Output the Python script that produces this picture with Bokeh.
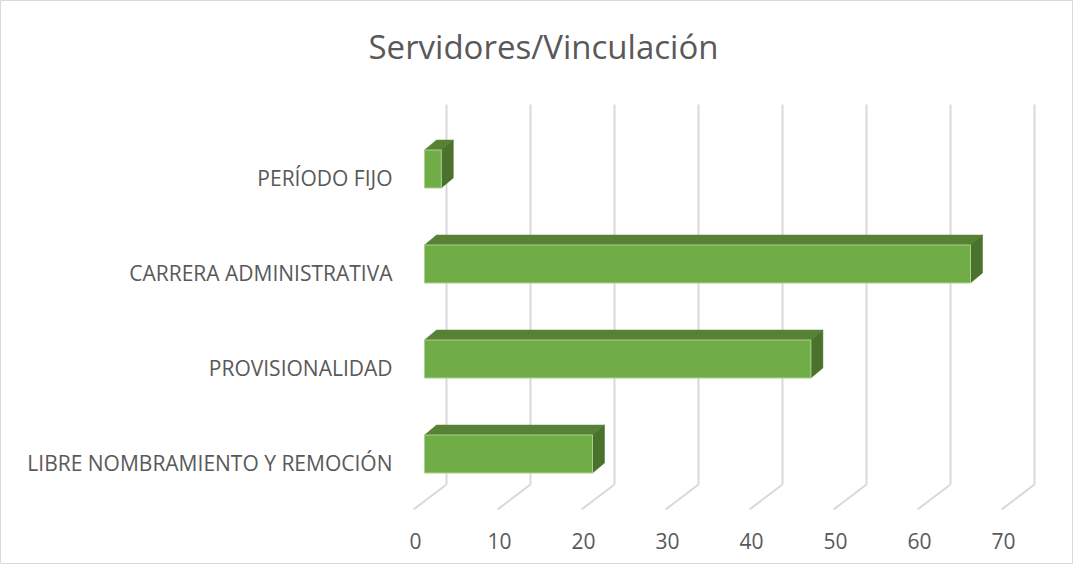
from bokeh.plotting import figure
from bokeh.models import Range1d, ColumnDataSource
from bokeh.embed import file_html
from bokeh.resources import INLINE
from bokeh.core.properties import value

# ---- data ----
categories = ["LIBRE NOMBRAMIENTO Y REMOCIÓN", "PROVISIONALIDAD", "CARRERA ADMINISTRATIVA", "PERÍODO FIJO"]
counts = [20, 46, 65, 2]
ticks = [0, 10, 20, 30, 40, 50, 60, 70]
title_text = "Servidores/Vinculación"

# ---- layout constants (pixel geometry of the pseudo-3D view) ----
W, H = 1073, 564
PX_PER_UNIT = 8.4          # horizontal pixels per value unit
PX_PER_CAT = 95.0          # vertical pixels per category
X0_PX = 424.0              # figure-x of value 0 on bar front plane
Y0_PX = 453.5              # figure-y of first category center
x_lo = -X0_PX / PX_PER_UNIT
x_hi = (W - X0_PX) / PX_PER_UNIT
y_hi = Y0_PX / PX_PER_CAT
y_lo = (Y0_PX - H) / PX_PER_CAT

def dx(px):
    return px / PX_PER_UNIT

def dy(px):
    return px / PX_PER_CAT

def fy(py):  # figure pixel y (from top) -> data y
    return (Y0_PX - py) / PX_PER_CAT

def fx(px):
    return (px - X0_PX) / PX_PER_UNIT

p = figure(width=W, height=H, output_backend="svg", toolbar_location=None,
           x_range=Range1d(x_lo, x_hi), y_range=Range1d(y_lo, y_hi),
           min_border=0)
p.xaxis.visible = False
p.yaxis.visible = False
p.xgrid.visible = False
p.ygrid.visible = False
p.outline_line_color = "#d9d9d9"
p.background_fill_color = "white"
p.border_fill_color = "white"

GRID = "#d9d9d9"
back_off = dx(22)     # back wall offset from bar front plane
front_off = dx(-11)   # floor front edge offset
y_floor_back = fy(484)
y_floor_front = fy(509)
y_wall_top = fy(104)

# gridlines: wall verticals + floor diagonals
vx, vy = [], []
for t in ticks:
    vx.append([t + back_off, t + back_off])
    vy.append([y_floor_back, y_wall_top])
    vx.append([t + front_off, t + back_off])
    vy.append([y_floor_front, y_floor_back])
p.multi_line(vx, vy, line_color=GRID, line_width=2)

# bars (front, top, side faces)
half = dy(19)
ddx, ddy = dx(12), dy(10)
idx = list(range(len(categories)))
front = ColumnDataSource(dict(left=[0] * len(counts), right=counts,
                              bottom=[i - half for i in idx], top=[i + half for i in idx]))
top_xs, top_ys, side_xs, side_ys = [], [], [], []
for i, v in zip(idx, counts):
    top_xs.append([0, v, v + ddx, ddx])
    top_ys.append([i + half, i + half, i + half + ddy, i + half + ddy])
    side_xs.append([v, v + ddx, v + ddx, v])
    side_ys.append([i - half, i - half + ddy, i + half + ddy, i + half])
p.patches(top_xs, top_ys, fill_color="#578236", line_color="#578236", line_width=0.5)
p.patches(side_xs, side_ys, fill_color="#4a722c", line_color="#4a722c", line_width=0.5)
p.quad(left="left", right="right", bottom="bottom", top="top", source=front,
       fill_color="#70ad47", line_color="#a9d18e", line_width=1)

# category labels
p.text(x=[fx(392)] * len(categories), y=[i - dy(9) for i in idx], text=categories,
       text_align="right", text_baseline="middle", text_color="#595959",
       text_font=value("Open Sans"), text_font_size="21px")

# tick labels
p.text(x=[t + dx(-9) for t in ticks], y=[fy(540)] * len(ticks), text=[str(t) for t in ticks],
       text_align="center", text_baseline="middle", text_color="#595959",
       text_font=value("Open Sans"), text_font_size="21px")

# title
p.text(x=[fx(543)], y=[fy(46)], text=[title_text], text_align="center",
       text_baseline="middle", text_color="#595959",
       text_font=value("Open Sans"), text_font_size="33px")

open("out.html", "w").write(file_html(p, INLINE))
